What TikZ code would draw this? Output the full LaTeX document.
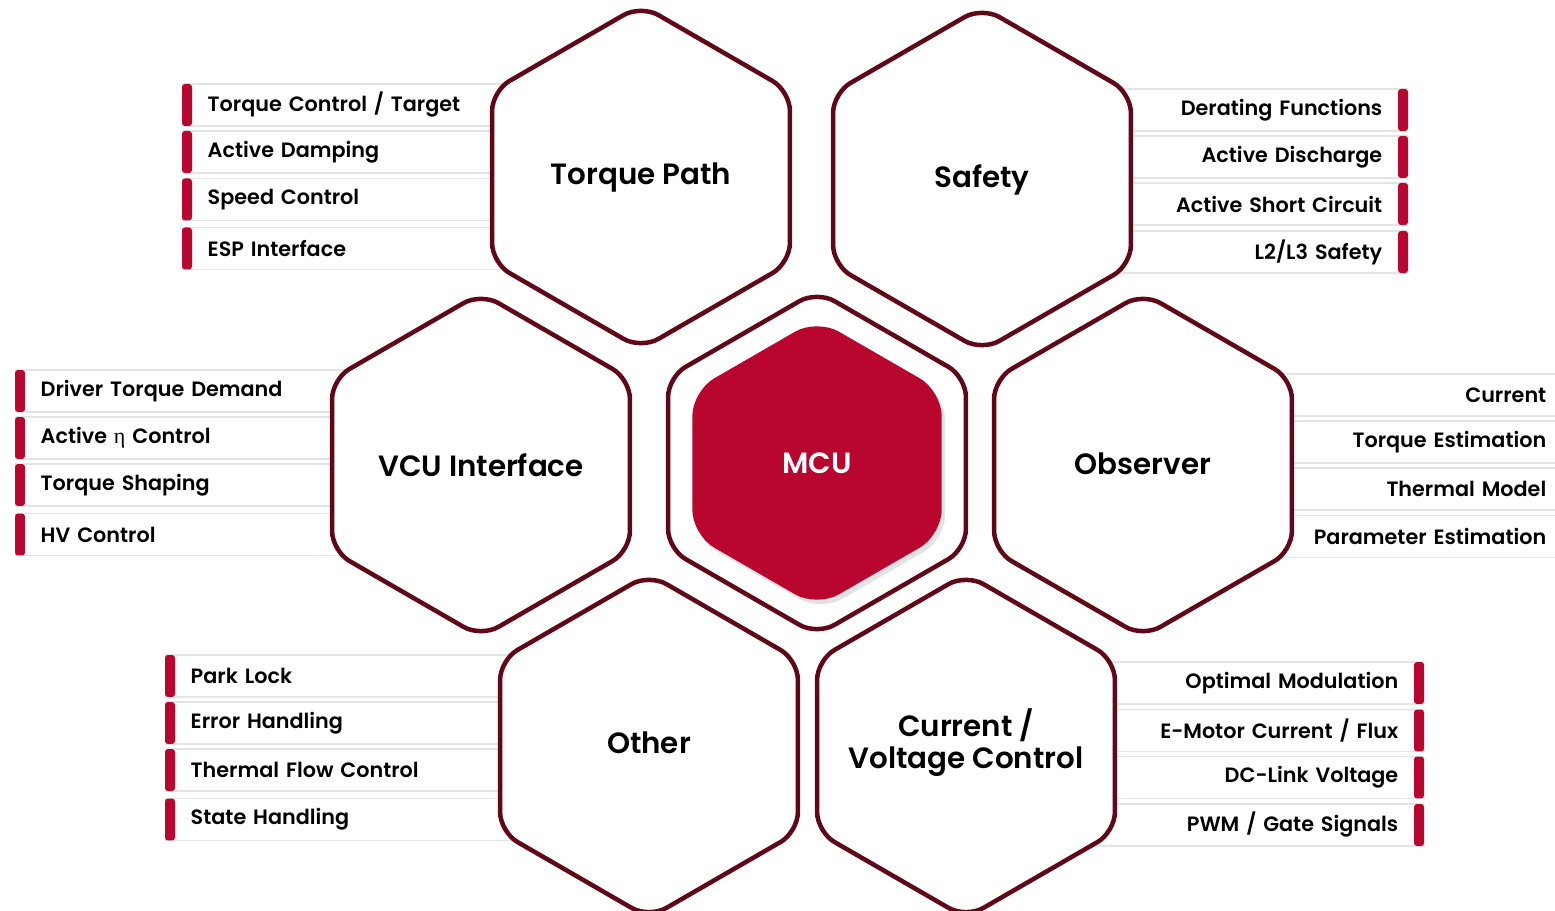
\documentclass[tikz,border=0pt]{standalone}
\usepackage{fontspec}
\setmainfont{Poppins}
\newfontfamily\popsemi{Poppins SemiBold}
\newfontfamily\etafont{Liberation Serif}
\usetikzlibrary{shapes.geometric,shadows}

\definecolor{hexline}{RGB}{96,8,24}
\definecolor{mcured}{RGB}{184,6,46}
\definecolor{rowgrey}{RGB}{228,228,228}

\tikzset{
  hexcell/.style={regular polygon, regular polygon sides=6, shape border rotate=30,
    minimum size=6.88cm, inner sep=0pt, draw=hexline, line width=0.09cm, fill=white,
    rounded corners=0.4cm, align=center,
    font=\popsemi\fontsize{16.7}{18.2}\selectfont},
  hexlabel/.style={inner sep=0pt, align=center,
    font=\popsemi\fontsize{16.7}{18.2}\selectfont},
  mcucell/.style={regular polygon, regular polygon sides=6, shape border rotate=30,
    minimum size=5.76cm, inner sep=0pt, fill=mcured, text=white, rounded corners=0.5cm,
    drop shadow={opacity=0.22, shadow xshift=0.07cm, shadow yshift=-0.09cm},
    font=\popsemi\fontsize{16.7}{18}\selectfont},
  lrow/.style={rectangle, draw=rowgrey, line width=0.03cm, fill=white, anchor=west,
    minimum height=0.84cm, inner xsep=0.5cm, inner ysep=0pt, text width=#1, align=left,
    font=\popsemi\fontsize{11.8}{14}\selectfont},
  rrow/.style={lrow=#1, anchor=east, align=right},
  redbar/.style={rectangle, fill=mcured, rounded corners=0.06cm, minimum width=0.2cm,
    minimum height=0.84cm, inner sep=0pt},
}

\begin{document}
\begin{tikzpicture}[x=0.02cm, y=-0.02cm]
    \useasboundingbox (0,0) rectangle (1555,911);
    \clip (0,0) rectangle (1555,911);

    % Rows: Torque Path
    \node[lrow=7.36cm] (tp1) at (182,105) {Torque Control / Target};
    \node[lrow=7.36cm] (tp2) at (182,152) {Active Damping};
    \node[lrow=7.36cm] (tp3) at (182,199.5) {Speed Control};
    \node[lrow=7.36cm] (tp4) at (182,248.5) {ESP Interface};
    \node[redbar] (tpb1) at (187,105) {};
    \node[redbar] (tpb2) at (187,152) {};
    \node[redbar] (tpb3) at (187,199.5) {};
    \node[redbar] (tpb4) at (187,248.5) {};

    % Rows: Safety
    \node[rrow=6.16cm] (sf1) at (1408,110) {Derating Functions};
    \node[rrow=6.16cm] (sf2) at (1408,157) {Active Discharge};
    \node[rrow=6.16cm] (sf3) at (1408,204) {Active Short Circuit};
    \node[rrow=6.16cm] (sf4) at (1408,252) {L2/L3 Safety};
    \node[redbar] (sfb1) at (1403,110) {};
    \node[redbar] (sfb2) at (1403,157) {};
    \node[redbar] (sfb3) at (1403,204) {};
    \node[redbar] (sfb4) at (1403,252) {};

    % Rows: VCU Interface
    \node[lrow=6.7cm] (vc1) at (15,391) {Driver Torque Demand};
    \node[lrow=6.7cm] (vc2) at (15,438) {Active {\etafont\fontsize{12.5}{14}\selectfont η} Control};
    \node[lrow=6.7cm] (vc3) at (15,485) {Torque Shaping};
    \node[lrow=6.7cm] (vc4) at (15,534.5) {HV Control};
    \node[redbar] (vcb1) at (20,391) {};
    \node[redbar] (vcb2) at (20,438) {};
    \node[redbar] (vcb3) at (20,485) {};
    \node[redbar] (vcb4) at (20,534.5) {};

    % Rows: Observer
    \node[rrow=6.44cm] (ob1) at (1572,395) {Current};
    \node[rrow=6.44cm] (ob2) at (1572,442) {Torque Estimation};
    \node[rrow=6.44cm] (ob3) at (1572,489) {Thermal Model};
    \node[rrow=6.44cm] (ob4) at (1572,536.5) {Parameter Estimation};
    \node[redbar] (obb1) at (1567,395) {};
    \node[redbar] (obb2) at (1567,442) {};
    \node[redbar] (obb3) at (1567,489) {};
    \node[redbar] (obb4) at (1567,536.5) {};

    % Rows: Other
    \node[lrow=7.3cm] (ot1) at (165,676) {Park Lock};
    \node[lrow=7.3cm] (ot2) at (165,723) {Error Handling};
    \node[lrow=7.3cm] (ot3) at (165,770) {Thermal Flow Control};
    \node[lrow=7.3cm] (ot4) at (165,819.5) {State Handling};
    \node[redbar] (otb1) at (170,676) {};
    \node[redbar] (otb2) at (170,723) {};
    \node[redbar] (otb3) at (170,770) {};
    \node[redbar] (otb4) at (170,819.5) {};

    % Rows: Current / Voltage Control
    \node[rrow=7.48cm] (cv1) at (1424,683) {Optimal Modulation};
    \node[rrow=7.48cm] (cv2) at (1424,730.5) {E-Motor Current / Flux};
    \node[rrow=7.48cm] (cv3) at (1424,777.5) {DC-Link Voltage};
    \node[rrow=7.48cm] (cv4) at (1424,825) {PWM / Gate Signals};
    \node[redbar] (cvb1) at (1419,683) {};
    \node[redbar] (cvb2) at (1419,730.5) {};
    \node[redbar] (cvb3) at (1419,777.5) {};
    \node[redbar] (cvb4) at (1419,825) {};

    % Hexagons
    \node[hexcell] (tp) at (641,177) {};
    \node[hexcell] (safety) at (982,179) {};
    \node[hexcell] (vcu) at (481,465) {};
    \node[hexcell] (ring) at (817,463) {};
    \node[mcucell] (mcu) at (817,463) {MCU};
    \node[hexcell] (obs) at (1143,465) {};
    \node[hexcell] (other) at (649,746) {};
    \node[hexcell] (cv) at (966,746) {};

    % Titles
    \node[hexlabel] (tptext) at (641,178) {Torque Path};
    \node[hexlabel] (safetytext) at (982,180) {Safety};
    \node[hexlabel] (vcutext) at (481,465) {VCU Interface};
    \node[hexlabel] (obstext) at (1143,464) {Observer};
    \node[hexlabel] (othertext) at (649,743) {Other};
    \node[hexlabel] (cvtext) at (966,743) {Current /\\Voltage Control};

\end{tikzpicture}
\end{document}
